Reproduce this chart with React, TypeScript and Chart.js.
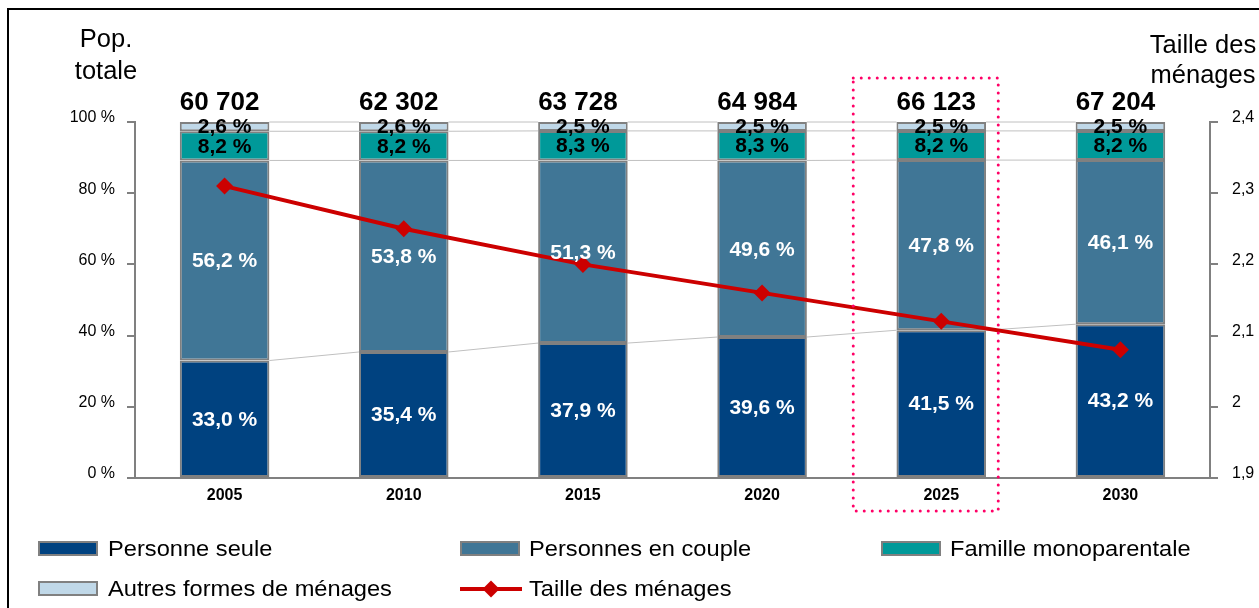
import React, { useEffect, useRef } from "react";
import { Chart, registerables } from "chart.js";

Chart.register(...registerables);

// ---- data ----
const years = ["2005", "2010", "2015", "2020", "2025", "2030"];
const personneSeule = [33.0, 35.4, 37.9, 39.6, 41.5, 43.2];
const personnesCouple = [56.2, 53.8, 51.3, 49.6, 47.8, 46.1];
const familleMono = [8.2, 8.2, 8.3, 8.3, 8.2, 8.2];
const autresFormes = [2.6, 2.6, 2.5, 2.5, 2.5, 2.5];
const tailleMenages = [2.31, 2.25, 2.2, 2.16, 2.12, 2.08];
const popTotale = [60702, 62302, 63728, 64984, 66123, 67204];
const highlightedYear = "2025";
const leftTicks = [0, 20, 40, 60, 80, 100];
const rightTicks = [1.9, 2.0, 2.1, 2.2, 2.3, 2.4];

// ---- styles ----
const FONT = "'Liberation Sans', Arial, sans-serif";
const C_SEULE = "#004280";
const C_COUPLE = "#407696";
const C_MONO = "#009999";
const C_AUTRES = "#C0D8E8";
const C_BORDER = "#808080";
const C_LINE = "#CC0000";
const C_PINK = "#FF0066";

const fmtPct = (v: number) => v.toFixed(1).replace(".", ",") + " %";
const fmtThousands = (v: number) =>
  String(v).replace(/\B(?=(\d{3})+(?!\d))/g, " ");

const overlayPlugin = {
  id: "overlay",
  beforeDatasetsDraw(chart: any) {
    const ctx = chart.ctx;
    ctx.save();
    ctx.strokeStyle = "#C0C0C0";
    ctx.lineWidth = 1;
    for (let d = 0; d < 4; d++) {
      const meta = chart.getDatasetMeta(d);
      for (let i = 0; i < meta.data.length - 1; i++) {
        const a = meta.data[i];
        const b = meta.data[i + 1];
        ctx.beginPath();
        ctx.moveTo(a.x + a.width / 2, a.y);
        ctx.lineTo(b.x - b.width / 2, b.y);
        ctx.stroke();
      }
    }
    ctx.restore();
  },
  afterDatasetsDraw(chart: any) {
    const ctx = chart.ctx;
    ctx.save();
    ctx.textAlign = "center";
    ctx.textBaseline = "middle";
    ctx.font = `bold 21px ${FONT}`;
    for (let d = 0; d < 4; d++) {
      const meta = chart.getDatasetMeta(d);
      const values = chart.data.datasets[d].data as number[];
      ctx.fillStyle = d < 2 ? "#FFFFFF" : "#000000";
      meta.data.forEach((el: any, i: number) => {
        const yc = (el.y + el.base) / 2;
        ctx.fillText(fmtPct(values[i]), el.x, yc + 1);
      });
    }
    // totals
    const topMeta = chart.getDatasetMeta(3);
    ctx.font = `bold 26px ${FONT}`;
    ctx.fillStyle = "#000000";
    ctx.textBaseline = "alphabetic";
    topMeta.data.forEach((el: any, i: number) => {
      ctx.fillText(fmtThousands(popTotale[i]), el.x - 5, el.y - 12);
    });
    ctx.restore();
  },
  afterDraw(chart: any) {
    const ctx = chart.ctx;
    const xs = chart.scales.x;
    const xc = xs.getPixelForValue(years.indexOf(highlightedYear));
    const left = xc - 88;
    const right = xc + 57;
    const top = 78;
    const bottom = 511;
    ctx.save();
    ctx.strokeStyle = C_PINK;
    ctx.lineWidth = 3;
    ctx.lineCap = "round";
    ctx.setLineDash([0, 8]);
    ctx.beginPath();
    ctx.moveTo(left, top);
    ctx.lineTo(right, top);
    ctx.lineTo(right, bottom);
    ctx.lineTo(left, bottom);
    ctx.closePath();
    ctx.stroke();
    ctx.restore();
  },
};

function ChartCanvas() {
  const ref = useRef<HTMLCanvasElement>(null);
  useEffect(() => {
    if (!ref.current) return;
    const barCommon = {
      type: "bar" as const,
      yAxisID: "y",
      borderColor: C_BORDER,
      borderWidth: 2,
      borderSkipped: false,
      barPercentage: 0.5,
      categoryPercentage: 1.0,
      order: 1,
    };
    const chart = new Chart(ref.current, {
      type: "bar",
      data: {
        labels: years,
        datasets: [
          { ...barCommon, label: "Personne seule", data: personneSeule, backgroundColor: C_SEULE },
          { ...barCommon, label: "Personnes en couple", data: personnesCouple, backgroundColor: C_COUPLE },
          { ...barCommon, label: "Famille monoparentale", data: familleMono, backgroundColor: C_MONO },
          { ...barCommon, label: "Autres formes de ménages", data: autresFormes, backgroundColor: C_AUTRES },
          {
            type: "line" as const,
            label: "Taille des ménages",
            data: tailleMenages,
            yAxisID: "y1",
            borderColor: C_LINE,
            backgroundColor: C_LINE,
            borderWidth: 4,
            pointStyle: "rectRot",
            pointRadius: 8.5,
            pointBorderWidth: 0,
            tension: 0,
            order: 0,
          },
        ] as any,
      },
      options: {
        responsive: false,
        animation: false,
        devicePixelRatio: 1,
        layout: { padding: { top: 122, bottom: 100, left: 0, right: 0 } },
        plugins: { legend: { display: false }, tooltip: { enabled: false } },
        scales: {
          x: {
            stacked: true,
            offset: true,
            grid: { display: false, drawTicks: false },
            border: { display: true, color: C_BORDER, width: 2 },
            ticks: {
              color: "#000",
              font: { family: FONT, size: 16, weight: "bold" },
              padding: 8,
            },
            afterFit: (s: any) => {
              s.height = 30;
            },
          },
          y: {
            stacked: true,
            position: "left",
            min: 0,
            max: 100,
            afterBuildTicks: (s: any) => {
              s.ticks = leftTicks.map((v) => ({ value: v }));
            },
            grid: {
              drawOnChartArea: false,
              drawTicks: true,
              tickLength: 8,
              color: C_BORDER,
              lineWidth: 2,
            },
            border: { display: true, color: C_BORDER, width: 2 },
            ticks: {
              color: "#000",
              font: { family: FONT, size: 16 },
              padding: 12,
              labelOffset: -4,
              callback: (v: any) => `${v} %`,
            },
            afterFit: (s: any) => {
              s.width = 135;
            },
          },
          y1: {
            position: "right",
            min: 1.9,
            max: 2.4,
            afterBuildTicks: (s: any) => {
              s.ticks = rightTicks.map((v) => ({ value: v }));
            },
            grid: {
              drawOnChartArea: false,
              drawTicks: true,
              tickLength: 8,
              color: C_BORDER,
              lineWidth: 2,
            },
            border: { display: true, color: C_BORDER, width: 2 },
            ticks: {
              color: "#000",
              font: { family: FONT, size: 16 },
              padding: 14,
              labelOffset: -4,
              callback: (v: any) => Number(Number(v).toFixed(1)).toString().replace(".", ","),
            },
            afterFit: (s: any) => {
              s.width = 49;
            },
          },
        },
      } as any,
      plugins: [overlayPlugin],
    });
    return () => chart.destroy();
  }, []);
  return (
    <canvas
      ref={ref}
      width={1259}
      height={608}
      style={{ position: "absolute", left: 0, top: 0, width: 1259, height: 608 }}
    />
  );
}

const legendText: React.CSSProperties = {
  position: "absolute",
  font: `21.5px ${FONT}`,
  lineHeight: "24px",
  color: "#000",
  whiteSpace: "nowrap",
  transform: "scaleX(1.1)",
  transformOrigin: "left center",
};

function LegendBox({ left, top, color }: { left: number; top: number; color: string }) {
  return (
    <div
      style={{
        position: "absolute",
        left,
        top,
        width: 60,
        height: 15,
        boxSizing: "border-box",
        border: `2px solid ${C_BORDER}`,
        background: color,
      }}
    />
  );
}

export default function App() {
  return (
    <div
      style={{
        position: "fixed",
        left: 0,
        top: 0,
        width: 1259,
        height: 608,
        overflow: "hidden",
        background: "#fff",
      }}
    >
      <div
        style={{
          position: "absolute",
          left: 7,
          top: 8,
          width: 1400,
          height: 800,
          border: "2px solid #000",
        }}
      />
      <ChartCanvas />
      <div
        style={{
          position: "absolute",
          left: 6,
          top: 22,
          width: 200,
          textAlign: "center",
          font: `25.5px ${FONT}`,
          lineHeight: "32px",
          color: "#000",
        }}
      >
        Pop.
        <br />
        totale
      </div>
      <div
        style={{
          position: "absolute",
          left: 1103,
          top: 29,
          width: 200,
          textAlign: "center",
          font: `25.5px ${FONT}`,
          lineHeight: "30px",
          color: "#000",
          whiteSpace: "nowrap",
        }}
      >
        Taille des
        <br />
        ménages
      </div>

      <LegendBox left={38} top={541} color={C_SEULE} />
      <div style={{ ...legendText, left: 108, top: 537 }}>Personne seule</div>
      <LegendBox left={460} top={541} color={C_COUPLE} />
      <div style={{ ...legendText, left: 529, top: 537 }}>Personnes en couple</div>
      <LegendBox left={881} top={541} color={C_MONO} />
      <div style={{ ...legendText, left: 950, top: 537 }}>Famille monoparentale</div>

      <LegendBox left={38} top={581} color={C_AUTRES} />
      <div style={{ ...legendText, left: 108, top: 577 }}>Autres formes de ménages</div>
      <div
        style={{
          position: "absolute",
          left: 460,
          top: 587,
          width: 62,
          height: 4,
          background: C_LINE,
        }}
      />
      <div
        style={{
          position: "absolute",
          left: 485,
          top: 583,
          width: 12,
          height: 12,
          background: C_LINE,
          transform: "rotate(45deg)",
        }}
      />
      <div style={{ ...legendText, left: 529, top: 577 }}>Taille des ménages</div>
    </div>
  );
}
